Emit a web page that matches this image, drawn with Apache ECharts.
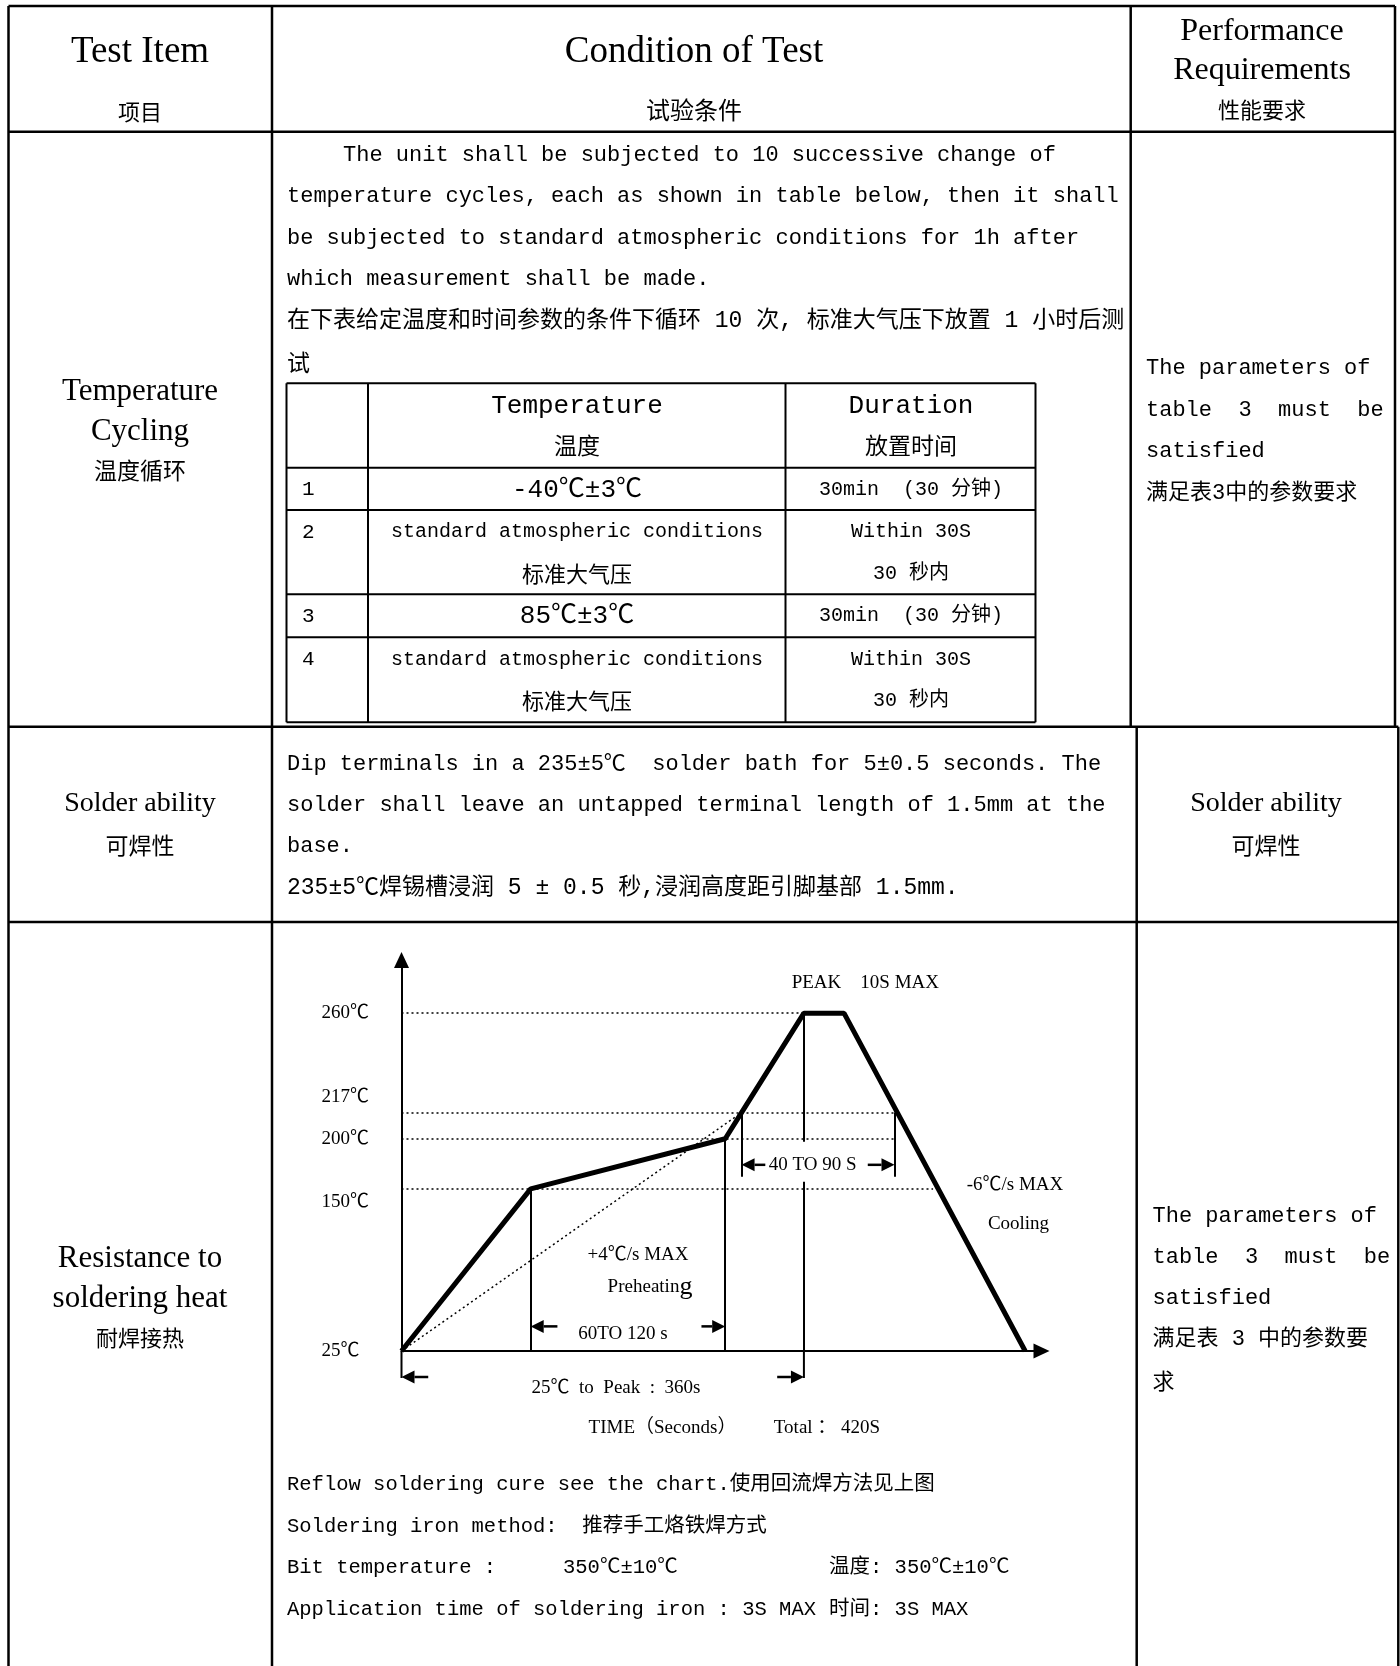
<!DOCTYPE html>
<html>
<head>
<meta charset="utf-8">
<script src="https://cdn.jsdelivr.net/npm/echarts@6.0.0/dist/echarts.min.js"></script>
<style>
html, body { margin: 0; padding: 0; background: #fff; }
#main { width: 1400px; height: 1666px; }
</style>
</head>
<body>
<div id="main"></div>
<script>
// reflow profile: time (s) and temperature (℃)
var profileTime = [0, 87, 218, 229, 271, 298, 420];
var profileTemp = [25, 150, 200, 217, 260, 260, 25];
var tempTicks = [25, 150, 200, 217, 260];
// dotted ramp from start to 217℃
var rampTime = [0, 229];
var rampTemp = [25, 217];
// dotted level lines and where they stop
var levelTemp = [260, 217, 200, 150];
var levelEnd = [271, 332, 332, 358];
// thin drop lines (the first one is the temperature axis itself)
var dropTime = [0, 87, 218, 229, 332, 271, 271];
var dropTop = [283, 150, 200, 217, 217, 260, 157];
var dropBottom = [25, 25, 25, 162, 162, 197, 25];
// dimension arrows, tail -> head (s), at a temperature
var arrowTail = [105, 202, 245, 314];
var arrowHead = [87, 218, 229, 332];
var arrowTemp = [44, 44, 174, 174];
// 25℃ to peak span under the axis
var spanTail = [18, 253];
var spanHead = [0, 271];

// cycling table
var cycleNo = ['1', '2', '3', '4'];
var cycleTemp = ['-40℃±3℃', 'standard atmospheric conditions', '85℃±3℃', 'standard atmospheric conditions'];
var cycleTempCn = ['', '标准大气压', '', '标准大气压'];
var cycleTime = ['30min  (30 分钟)', 'Within 30S', '30min  (30 分钟)', 'Within 30S'];
var cycleTimeCn = ['', '30 秒内', '', '30 秒内'];

var MONO = '"Liberation Mono", "Noto Sans CJK SC", monospace';
var SERIF = '"Liberation Serif", "Noto Sans CJK SC", serif';
var CJK = '"Noto Sans CJK SC", sans-serif';

var chart = echarts.init(document.getElementById('main'));

var option = {
	backgroundColor: '#fff',
	animation: false,
	grid: { left: 401.5, top: 960, width: 640, height: 391, containLabel: false, outerBoundsMode: 'none' },
	xAxis: {
		type: 'value', min: 0, max: 431,
		axisLine: { show: true, onZero: false, symbol: ['none', 'triangle'], symbolSize: [15, 16],
			lineStyle: { color: '#000', width: 2 } },
		axisTick: { show: false }, axisLabel: { show: false }, splitLine: { show: false }
	},
	yAxis: {
		type: 'value', min: 25, max: 283,
		breaks: [
			{ start: 25, end: 149.9, gap: 70 },
			{ start: 150.1, end: 199.9, gap: 21.5 },
			{ start: 200.1, end: 216.9, gap: 11.1 }
		],
		breakArea: { show: false },
		axisLine: { show: true, onZero: false, symbol: ['none', 'triangle'], symbolSize: [15, 16],
			lineStyle: { color: '#000', width: 2 } },
		axisTick: { show: false }, splitLine: { show: false },
		axisLabel: {
			customValues: tempTicks, margin: 80, align: 'left',
			color: '#000', fontSize: 19, fontFamily: SERIF,
			formatter: function (v) {
				if (v === 217) return '{up|217℃}';
				if (v === 150) return '{dn|150℃}';
				return '{n|' + v + '℃}';
			},
			rich: {
				n: { fontSize: 19, fontFamily: SERIF, color: '#000' },
				up: { fontSize: 19, fontFamily: SERIF, color: '#000', padding: [0, 0, 31, 0] },
				dn: { fontSize: 19, fontFamily: SERIF, color: '#000', padding: [26, 0, 0, 0] }
			}
		}
	},
	series: [
		{
			type: 'line', name: 'profile', silent: true, z: 5,
			data: profileTime.map(function (t, i) { return [t, profileTemp[i]]; }),
			symbol: 'none', lineStyle: { color: '#000', width: 5 },
			markLine: {
				silent: true, symbol: 'none', label: { show: false },
				lineStyle: { color: '#000', width: 2, type: 'solid' },
				data: dropTime.map(function (t, i) { return [{ coord: [t, dropTop[i]] }, { coord: [t, dropBottom[i]] }]; })
			}
		},
		{
			type: 'line', name: 'ramp', silent: true, z: 3,
			data: rampTime.map(function (t, i) { return [t, rampTemp[i]]; }),
			symbol: 'none', lineStyle: { color: '#000', width: 1.5, type: [2, 3] },
			markLine: {
				silent: true, symbol: 'none', label: { show: false },
				lineStyle: { color: '#000', width: 1.5, type: [2, 3] },
				data: levelTemp.map(function (v, i) { return [{ coord: [0, v] }, { coord: [levelEnd[i], v] }]; })
			}
		}
	]
};
chart.setOption(option);

var G = [];
function line(x1, y1, x2, y2, w) {
	G.push({ type: 'line', silent: true, shape: { x1: x1, y1: y1, x2: x2, y2: y2 },
		style: { stroke: '#000', lineWidth: w || 2.5 } });
}
function txt(s, x, y, size, fam, align, rich) {
	var st = { text: s, fontSize: size, fontFamily: fam, fill: '#000',
		align: align || 'left', textAlign: align || 'left', verticalAlign: 'middle', textVerticalAlign: 'middle' };
	if (rich) st.rich = rich;
	G.push({ type: 'text', silent: true, x: x, y: y, style: st });
}
function arrow(tail, head) {
	var dx = head[0] - tail[0], dy = head[1] - tail[1];
	var len = Math.sqrt(dx * dx + dy * dy), ux = dx / len, uy = dy / len;
	var bx = head[0] - ux * 13, by = head[1] - uy * 13;
	line(tail[0], tail[1], bx, by, 2.5);
	G.push({ type: 'polygon', silent: true,
		shape: { points: [[head[0], head[1]], [bx - uy * 6.5, by + ux * 6.5], [bx + uy * 6.5, by - ux * 6.5]] },
		style: { fill: '#000' } });
}
function px(t, c) { return chart.convertToPixel({ gridIndex: 0 }, [t, c]); }

// outer table
line(8.5, 6, 1395, 6);
line(8.5, 6, 8.5, 1666);
line(8.5, 131.7, 1395, 131.7);
line(272, 6, 272, 1666);
line(1130.7, 6, 1130.7, 726.7);
line(1136.7, 726.7, 1136.7, 1666);
line(1395, 6, 1395, 726.7);
line(1398.3, 726.7, 1398.3, 1666);
line(8.5, 726.7, 1398.3, 726.7);
line(8.5, 922, 1398.3, 922);

// header
txt('Test Item', 140, 52, 37, SERIF, 'center');
txt('项目', 140, 112, 22, CJK, 'center');
txt('Condition of Test', 694, 52, 37, SERIF, 'center');
txt('试验条件', 694, 110, 24, CJK, 'center');
txt('Performance', 1262, 32, 32, SERIF, 'center');
txt('Requirements', 1262, 71, 32, SERIF, 'center');
txt('性能要求', 1262, 110, 22, CJK, 'center');

// row 1: temperature cycling
txt('Temperature', 140, 392, 31, SERIF, 'center');
txt('Cycling', 140, 432, 31, SERIF, 'center');
txt('温度循环', 140, 470.5, 23, CJK, 'center');
txt('The unit shall be subjected to 10 successive change of', 343, 155, 22, MONO);
txt('temperature cycles, each as shown in table below, then it shall', 287, 196.5, 22, MONO);
txt('be subjected to standard atmospheric conditions for 1h after', 287, 238, 22, MONO);
txt('which measurement shall be made.', 287, 279, 22, MONO);
txt('在下表给定温度和时间参数的条件下循环 10 次, 标准大气压下放置 1 小时后测', 287, 321, 23, MONO);
txt('试', 287, 362, 23, CJK);
txt('The parameters of', 1146, 368.6, 22, MONO);
txt('table  3  must  be', 1146, 410, 22, MONO);
txt('satisfied', 1146, 451.4, 22, MONO);
txt('满足表3中的参数要求', 1146, 493, 22, MONO);

// cycling sub-table
[383.3, 467.7, 510, 594.3, 637.3, 722.3].forEach(function (y) { line(286.5, y, 1035.5, y, 2); });
[286.5, 368, 785.5, 1035.5].forEach(function (x) { line(x, 383.3, x, 722.3, 2); });
txt('Temperature', 577, 405.7, 26, MONO, 'center');
txt('温度', 577, 445.5, 23, CJK, 'center');
txt('Duration', 911, 405.7, 26, MONO, 'center');
txt('放置时间', 911, 445.5, 23, CJK, 'center');
var rowY = [489.7, 532, 616, 659.6];
var rowCnY = [0, 573.6, 0, 701];
cycleNo.forEach(function (n, i) {
	txt(n, 302, rowY[i], 21, MONO);
	var big = cycleTempCn[i] === '';
	txt(cycleTemp[i], 577, rowY[i], big ? 26 : 20, MONO, 'center');
	txt(cycleTime[i], 911, rowY[i], 20, MONO, 'center');
	if (!big) {
		txt(cycleTempCn[i], 577, rowCnY[i], 22, CJK, 'center');
		txt(cycleTimeCn[i], 911, rowCnY[i], 20, MONO, 'center');
	}
});

// row 2: solder ability
txt('Solder ability', 140, 804, 28, SERIF, 'center');
txt('可焊性', 140, 845.5, 23, CJK, 'center');
txt('Solder ability', 1266, 804, 28, SERIF, 'center');
txt('可焊性', 1266, 845.5, 23, CJK, 'center');
txt('Dip terminals in a 235±5℃  solder bath for 5±0.5 seconds. The', 287, 763.7, 22, MONO);
txt('solder shall leave an untapped terminal length of 1.5mm at the', 287, 805, 22, MONO);
txt('base.', 287, 846.6, 22, MONO);
txt('235±5℃焊锡槽浸润 5 ± 0.5 秒,浸润高度距引脚基部 1.5mm.', 287, 888, 23, MONO);

// row 3: resistance to soldering heat
txt('Resistance to', 140, 1258.7, 31, SERIF, 'center');
txt('soldering heat', 140, 1299, 31, SERIF, 'center');
txt('耐焊接热', 140, 1338, 22, CJK, 'center');
txt('The parameters of', 1152.5, 1216, 22, MONO);
txt('table  3  must  be', 1152.5, 1257.6, 22, MONO);
txt('satisfied', 1152.5, 1298, 22, MONO);
txt('满足表 3 中的参数要', 1152.5, 1339.4, 22, MONO);
txt('求', 1152.5, 1381, 22, CJK);
txt('Reflow soldering cure see the chart.使用回流焊方法见上图', 287, 1485, 20.5, MONO);
txt('Soldering iron method:  推荐手工烙铁焊方式', 287, 1526.4, 20.5, MONO);
txt('Bit temperature :', 287, 1567.8, 20.5, MONO);
txt('350℃±10℃', 563, 1567.8, 20.5, MONO);
txt('温度: 350℃±10℃', 829, 1567.8, 20.5, MONO);
txt('Application time of soldering iron : 3S MAX', 287, 1609.3, 20.5, MONO);
txt('时间: 3S MAX', 829, 1609.3, 20.5, MONO);

// profile annotations, placed through the axes
arrowTail.forEach(function (t, i) {
	arrow(px(t, arrowTemp[i]), px(arrowHead[i], arrowTemp[i]));
});
var axisY = px(0, 25)[1];
var spanY = axisY + 26;
spanTail.forEach(function (t, i) {
	var hx = px(spanHead[i], 25)[0];
	line(hx, axisY, hx, spanY + 1, 2);
	arrow([px(t, 25)[0], spanY], [hx, spanY]);
});
txt('PEAK    10S MAX', 791.7, 983, 19, SERIF);
txt('40 TO 90 S', 812.6, 1165, 19, SERIF, 'center');
txt('-6℃/s MAX', 966.7, 1185, 19, SERIF);
txt('Cooling', 1018.5, 1224, 19, SERIF, 'center');
txt('+4℃/s MAX', 638, 1255, 19, SERIF, 'center');
txt('{a|Preheatin}{b|g}', 650, 1287, 19, SERIF, 'center', {
	a: { fontSize: 19, fontFamily: SERIF, fill: '#000' },
	b: { fontSize: 26, fontFamily: SERIF, fill: '#000' }
});
txt('60TO 120 s', 623, 1334, 19, SERIF, 'center');
txt('25℃  to  Peak  :  360s', 616, 1388, 19, SERIF, 'center');
txt('TIME（Seconds）', 662.5, 1428, 19, SERIF, 'center');
txt('Total ： 420S', 827, 1428, 19, SERIF, 'center');

chart.setOption({ graphic: G });
</script>
</body>
</html>
